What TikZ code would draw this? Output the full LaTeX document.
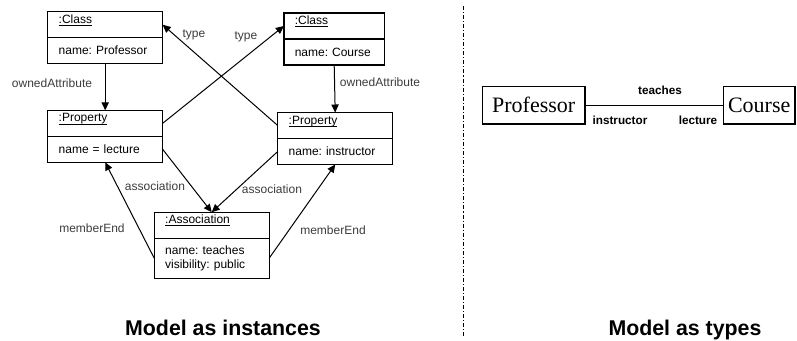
\documentclass[tikz,border=0pt]{standalone}
\usepackage{fontspec}
\setmainfont{Liberation Sans}
\newfontfamily\timesfont{Liberation Serif}
\usetikzlibrary{positioning, arrows.meta}
\definecolor{labelgray}{RGB}{60,60,60}
\newcommand{\objname}[1]{\underline{\smash{#1}}}

\begin{document}
\begin{tikzpicture}[x=0.75pt, y=-0.75pt,
  objhead/.style={draw, line width=1pt, outer sep=0pt, inner xsep=8.2pt, inner ysep=2pt,
    minimum height=19.5pt, text width=#1, align=left,
    font=\fontsize{9}{10.8}\selectfont\frenchspacing},
  objhead/.default=69.8pt,
  objbody/.style={objhead=#1},
  objbody/.default=69.8pt,
  link/.style={line width=0.75pt, -{Triangle[length=6pt, width=5.5pt]}},
  linklabel/.style={font=\fontsize{9}{10.8}\selectfont, text=labelgray, inner sep=0pt},
  typebox/.style={draw, line width=1pt, outer sep=0pt, minimum height=28pt,
    font=\timesfont\fontsize{16.5}{18}\selectfont},
  endlabel/.style={font=\bfseries\fontsize{8.8}{10.5}\selectfont, inner sep=0pt},
  title/.style={font=\bfseries\fontsize{16}{19}\selectfont, anchor=base, inner sep=0pt}]

\useasboundingbox (0,0) rectangle (797,340);

% --- Model as instances ---
\node[objhead] (clsP) at (105.2, 24.7) {\objname{:Class}};
\node[objbody, below=0pt of clsP] (clsPb) {name: Professor};

\node[objhead=59.1pt] (clsC) at (334.2, 26) {\objname{:Class}};
\node[objbody=59.1pt, below=0pt of clsC] (clsCb) {name: Course};

\node[objhead] (propL) at (105.2, 123.3) {\objname{:Property}};
\node[objbody, below=0pt of propL] (propLb) {name = lecture};

\node[objhead] (propI) at (335.2, 125.5) {\objname{:Property}};
\node[objbody, below=0pt of propI] (propIb) {name: instructor};

\node[objhead] (assoc) at (211.7, 225.2) {\objname{:Association}};
\node[objbody, below=0pt of assoc, minimum height=30pt] (assocb) {name: teaches\\visibility: public};

% type links (crossing)
\draw[link] (propL.east) -- (clsC.west);
\draw[link] (propI.west) -- (clsP.east);
\node[linklabel] (typeP) at (194, 35) {type};
\node[linklabel] (typeC) at (246, 37) {type};

% ownedAttribute
\draw[link] (clsPb.south) -- (propL.north);
\draw[link] (clsCb.south) -- (propI.north);
\node[linklabel] (ownP) at (52, 83) {ownedAttribute};
\node[linklabel] (ownC) at (380, 82) {ownedAttribute};

% association
\draw[link] (propLb.east) -- (assoc.north);
\draw[link] (propIb.west) -- (assoc.north);
\node[linklabel] (assL) at (155, 186) {association};
\node[linklabel] (assI) at (272, 189) {association};

% memberEnd
\draw[link] (assocb.west) -- (propLb.south);
\draw[link] (assocb.east) -- (propIb.south);
\node[linklabel] (memL) at (92, 228) {memberEnd};
\node[linklabel] (memI) at (333, 230) {memberEnd};

\node[title] (titleInst) at (223, 335.5) {Model as instances};

% --- Separator ---
\draw[line width=0.75pt, dash pattern=on 3pt off 1.5pt on 0.8pt off 1.5pt] (463, 6) -- (463, 338);

% --- Model as types ---
\node[typebox, minimum width=77pt] (prof) at (533.7, 105.3) {Professor};
\node[typebox, minimum width=53.8pt] (course) at (759.2, 105.3) {Course};
\draw[line width=0.75pt] (prof.east) -- (course.west);
\node[endlabel] (teaches) at (660, 90) {teaches};
\node[endlabel] (instr) at (620, 120) {instructor};
\node[endlabel] (lect) at (698, 120) {lecture};

\node[title] (titleTypes) at (685, 335.5) {Model as types};

\end{tikzpicture}
\end{document}
